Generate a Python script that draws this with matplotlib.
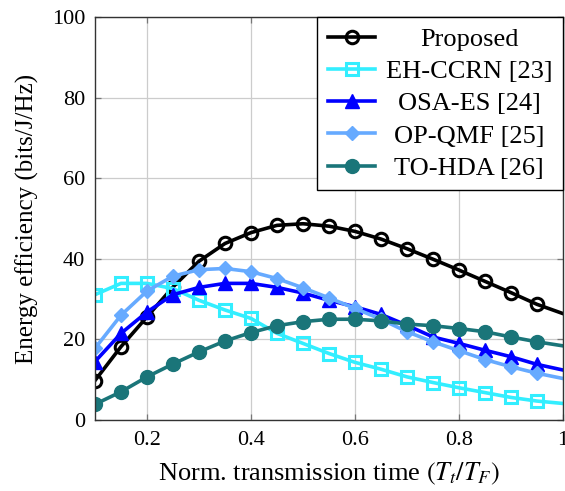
import numpy as np
import matplotlib
matplotlib.use("Agg")
import matplotlib.pyplot as plt

plt.rcParams['font.family'] = ['Liberation Serif', 'DejaVu Serif']
plt.rcParams['mathtext.fontset'] = 'stix'

x = [0.10, 0.15, 0.20, 0.25, 0.30, 0.35, 0.40, 0.45, 0.50, 0.55,
     0.60, 0.65, 0.70, 0.75, 0.80, 0.85, 0.90, 0.95, 1.00]

proposed = [9.8, 18.2, 25.6, 33.0, 39.4, 43.8, 46.5, 48.3, 48.7, 48.1,
            46.8, 44.9, 42.5, 39.9, 37.2, 34.4, 31.6, 28.7, 26.4]
eh_ccrn = [31.1, 33.9, 33.9, 32.6, 29.7, 27.3, 25.2, 21.5, 19.0, 16.5,
           14.3, 12.6, 10.7, 9.3, 8.0, 6.8, 5.6, 4.7, 4.1]
osa_es = [14.5, 21.5, 26.8, 31.1, 32.9, 33.9, 33.9, 32.9, 31.5, 29.7,
          28.1, 26.2, 23.5, 20.6, 19.0, 17.3, 15.7, 13.8, 12.4]
op_qmf = [17.8, 26.0, 32.0, 35.7, 37.3, 37.6, 36.8, 35.1, 32.8, 30.3,
          27.7, 25.0, 21.9, 19.4, 17.2, 15.0, 13.2, 11.6, 10.3]
to_hda = [3.9, 7.0, 10.7, 13.9, 16.9, 19.6, 21.7, 23.4, 24.4, 25.0,
          25.0, 24.6, 23.8, 23.4, 22.7, 21.9, 20.6, 19.4, 18.4]

labels = ['Proposed', 'EH-CCRN [23]', 'OSA-ES [24]', 'OP-QMF [25]', 'TO-HDA [26]']
xticks = [0.2, 0.4, 0.6, 0.8, 1.0]
xticklabels = ['0.2', '0.4', '0.6', '0.8', '1']
yticks = [0, 20, 40, 60, 80, 100]

fig = plt.figure(figsize=(5.65, 4.91), dpi=100)
ax = fig.add_axes([95/565, 71/491, 468/565, 403/491])

series = [proposed, eh_ccrn, osa_es, op_qmf, to_hda]
styles = [
    dict(color='black', marker='o', mfc='none', ms=9, mew=2.2),
    dict(color='#33eeff', marker='s', mfc='none', ms=8.5, mew=2.2),
    dict(color='#0000ff', marker='^', ms=10, mew=1),
    dict(color='#66aaff', marker='D', ms=7.5, mew=1),
    dict(color='#1a7579', marker='o', ms=10, mew=1),
]
n = len(x)
for ys, lab, st in zip(series, labels, styles):
    ax.plot(x, ys, label=lab, lw=2.6, markevery=list(range(n - 1)), **st)

ax.set_xlim(0.1, 1.0)
ax.set_ylim(0, 100)
ax.set_xticks(xticks)
ax.set_xticklabels(xticklabels)
ax.set_yticks(yticks)
ax.grid(True, color='#cccccc', lw=0.9)
ax.set_axisbelow(True)
ax.tick_params(direction='in', top=True, right=True, length=4, width=0.9,
               color='#777777', labelsize=16)
ax.tick_params(axis='y', pad=7)
ax.tick_params(axis='x', pad=8)
for s in ax.spines.values():
    s.set_linewidth(1.0)
    s.set_color('#333333')

ax.set_xlabel(r'Norm. transmission time $(T_t/T_F)$', fontsize=19, labelpad=8)
ax.set_ylabel('Energy efficiency (bits/J/Hz)', fontsize=18, labelpad=9)

leg = ax.legend(loc='upper right', fontsize=19, frameon=True, fancybox=False,
                framealpha=1, edgecolor='black', borderaxespad=0.0,
                handlelength=1.8, labelspacing=0.33, borderpad=0.4,
                handletextpad=0.4)
leg.get_frame().set_linewidth(1.0)

# center the legend texts within the text column
fig.canvas.draw()
renderer = fig.canvas.get_renderer()
texts = leg.get_texts()
widths = [t.get_window_extent(renderer).width for t in texts]
maxw = max(widths)
items = []
for col in leg._legend_handle_box.get_children():
    items.extend(col.get_children())
for item, w in zip(items, widths):
    item.sep = item.sep + (maxw - w) / 2 * 72 / fig.dpi

fig.savefig('out.png', dpi=100)
